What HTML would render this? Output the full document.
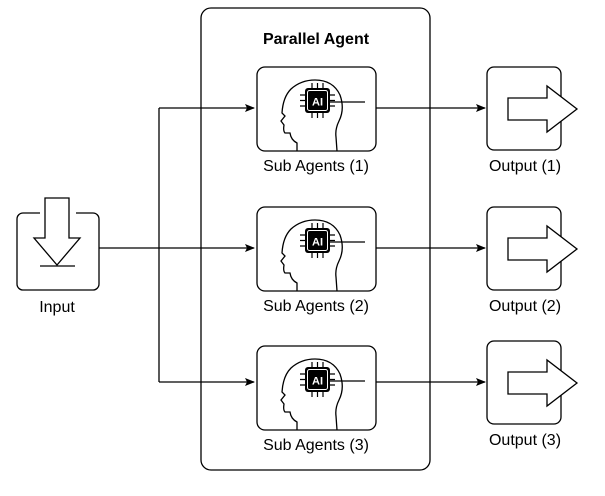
<!DOCTYPE html>
<html><head><style>body{margin:0;background:#fff}svg{display:block}</style></head><body>
<svg width="605" height="496" viewBox="0 0 605 496" xmlns="http://www.w3.org/2000/svg" font-family="Liberation Sans, Arial, sans-serif">
<defs>
<marker id="a" markerWidth="10" markerHeight="8" refX="9" refY="4" orient="auto" markerUnits="userSpaceOnUse"><path d="M0,0 L10,4 L0,8 L2,4 Z" fill="#000"/></marker>
<g id="agent">
<rect x="0" y="0" width="119" height="84" rx="8" fill="#fff" stroke="#000" stroke-width="1.3"/>
<path d="M40,84 L40,76 Q34,73 33,66 L28,66 Q26,64 27,58 L24,54 L28,49 L25,46 Q26,30 34,22 Q44,13 58,13 Q76,13 83,28 Q88,42 82,54 Q78,62 79,70 L80,84" fill="none" stroke="#000" stroke-width="1.3"/>
<g stroke="#000" stroke-width="1.2">
<line x1="55" y1="16" x2="55" y2="51"/><line x1="60.5" y1="16" x2="60.5" y2="51"/><line x1="66" y1="16" x2="66" y2="51"/>
<line x1="43" y1="28" x2="78" y2="28"/><line x1="43" y1="33.5" x2="78" y2="33.5"/><line x1="43" y1="39" x2="78" y2="39"/>
<line x1="73" y1="35" x2="108" y2="35"/>
</g>
<rect x="48" y="21" width="25" height="25" rx="3" fill="#000"/>
<rect x="50.5" y="23.5" width="20" height="20" rx="2" fill="#000" stroke="#fff" stroke-width="1"/>
<text x="60.5" y="38.5" font-size="11" font-weight="bold" fill="#fff" text-anchor="middle">AI</text>
</g>
<g id="out">
<rect x="0" y="0" width="74" height="83" rx="7" fill="#fff" stroke="#000" stroke-width="1.3"/>
<path d="M21,31 L60,31 L60,19 L90,42 L60,65 L60,53 L21,53 Z" fill="#fff" stroke="#000" stroke-width="1.3"/>
</g>
</defs>
<rect x="201" y="8" width="229" height="462" rx="10" fill="#fff" stroke="#000" stroke-width="1.3"/>
<text x="316" y="44" font-size="16" font-weight="bold" text-anchor="middle">Parallel Agent</text>
<!-- input -->
<rect x="17" y="213" width="82" height="77" rx="6" fill="#fff" stroke="#000" stroke-width="1.3"/>
<rect x="40" y="210" width="36" height="6" fill="#fff"/>
<path d="M45,198 L69,198 L69,238 L80,238 L57,265 L34,238 L45,238 Z" fill="#fff" stroke="#000" stroke-width="1.3"/>
<line x1="40" y1="266" x2="75" y2="266" stroke="#000" stroke-width="1.3"/>
<text x="57" y="312" font-size="16" text-anchor="middle">Input</text>
<!-- connectors -->
<g stroke="#000" stroke-width="1.3" fill="none">
<line x1="99" y1="248" x2="254" y2="248" marker-end="url(#a)"/>
<line x1="159" y1="108" x2="159" y2="382"/>
<line x1="159" y1="108" x2="254" y2="108" marker-end="url(#a)"/>
<line x1="159" y1="382" x2="254" y2="382" marker-end="url(#a)"/>
<line x1="376" y1="108" x2="485" y2="108" marker-end="url(#a)"/>
<line x1="376" y1="248" x2="485" y2="248" marker-end="url(#a)"/>
<line x1="376" y1="382" x2="485" y2="382" marker-end="url(#a)"/>
</g>
<use href="#agent" x="257" y="67"/>
<use href="#agent" x="257" y="207"/>
<use href="#agent" x="257" y="346"/>
<text x="316" y="171" font-size="16" text-anchor="middle">Sub Agents (1)</text>
<text x="316" y="311" font-size="16" text-anchor="middle">Sub Agents (2)</text>
<text x="316" y="450" font-size="16" text-anchor="middle">Sub Agents (3)</text>
<use href="#out" x="487" y="67"/>
<use href="#out" x="487" y="207"/>
<use href="#out" x="487" y="341"/>
<text x="525" y="171" font-size="16" text-anchor="middle">Output (1)</text>
<text x="525" y="311" font-size="16" text-anchor="middle">Output (2)</text>
<text x="525" y="445" font-size="16" text-anchor="middle">Output (3)</text>
</svg>
</body></html>
